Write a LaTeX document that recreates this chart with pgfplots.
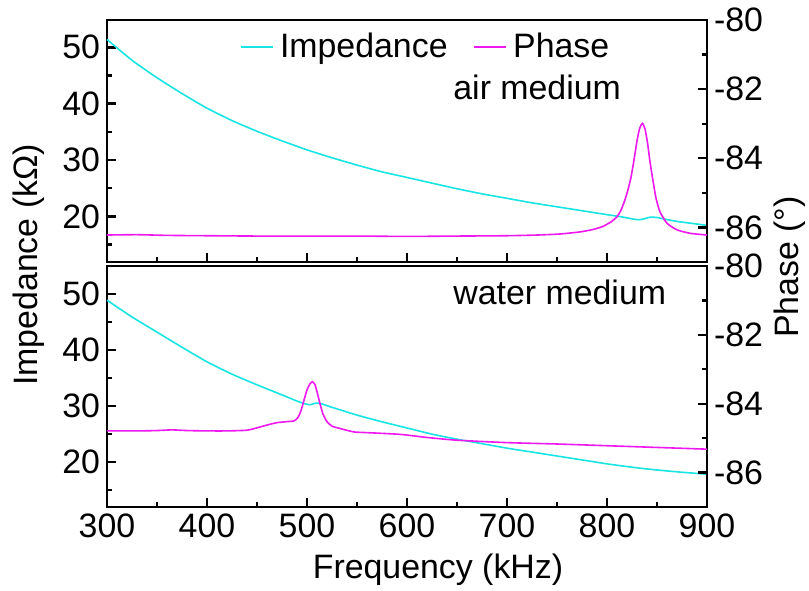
\documentclass[border=0pt]{standalone}
\usepackage{pgfplots}
\pgfplotsset{compat=1.18}
\usepackage{fontspec}
\setmainfont{Liberation Sans}
\definecolor{imp}{RGB}{25,228,228}
\definecolor{pha}{RGB}{238,25,238}
\newcommand{\bigf}{\fontsize{17}{20}\selectfont}
\pgfplotsset{
  base/.style={
    scale only axis, width=300bp,
    xmin=300, xmax=900,
    xtick={300,400,500,600,700,800,900},
    minor xtick={350,450,550,650,750,850},
    tick align=inside,
    major tick length=4.3bp, minor tick length=2.4bp,
    tick style={black, line width=1.2bp},
    axis line style={line width=1.3bp},
    tick label style={font=\bigf},
    clip=false,
  },
  curve/.style={line width=0.8bp, smooth, tension=0.35},
}
\begin{document}
\begin{tikzpicture}
\path[use as bounding box] (0,0) rectangle (404.5bp,295.5bp);
% ---------- top panel: air ----------
\begin{axis}[base, at={(53.5bp,164.5bp)}, anchor=south west, height=121bp,
  ymin=11.9, ymax=54.85,
  ytick={20,30,40,50}, yticklabels={20,30,40,50},
  minor ytick={15,25,35,45},
  xticklabels={}, xtick pos=lower, ytick pos=left,
  legend columns=2,
  legend image code/.code={\draw[#1] (0bp,0bp) -- (16bp,0bp);},
  legend style={draw=none, fill=none, at={(0.2217,0.888)}, anchor=west,
    inner sep=0pt, font=\bigf, cells={anchor=west},
    nodes={inner xsep=3bp},
    /tikz/every even column/.append style={column sep=10bp}},
]
\addplot[imp, curve] coordinates {
(300,51.4) (325,47.7) (350,44.6) (375,41.8) (400,39.2) (425,37.0) (450,35.1)
(475,33.4) (500,31.8) (525,30.4) (550,29.1) (575,27.9) (600,26.9) (625,25.9)
(650,24.9) (675,24.0) (700,23.2) (725,22.4) (750,21.7) (775,21.0) (800,20.3)
(815,19.9) (825,19.55) (832,19.4) (837,19.55) (843,19.85) (850,19.8) (858,19.5)
(870,19.1) (885,18.75) (900,18.4)};
\addlegendentry{Impedance}
\addlegendimage{pha, line width=0.8bp}
\addlegendentry{Phase}
\end{axis}
\begin{axis}[base, at={(53.5bp,164.5bp)}, anchor=south west, height=121bp,
  ymin=-87, ymax=-80, axis y line*=right, axis x line=none,
  ytick={-86,-84,-82,-80}, yticklabels={-86,-84,-82,-80},
  minor ytick={-85,-83,-81},
]
\addplot[pha, curve] coordinates {
(300,-86.22) (330,-86.21) (360,-86.23) (400,-86.24) (450,-86.25) (500,-86.25)
(550,-86.25) (600,-86.26) (650,-86.25) (700,-86.24) (730,-86.22) (753,-86.19)
(773,-86.13) (786,-86.06) (796,-85.97) (804,-85.84) (810,-85.69) (814,-85.5)
(818,-85.2) (821,-84.91) (824,-84.55) (827,-84.05) (830,-83.5) (832.5,-83.15)
(835.3,-82.99) (838,-83.15) (840.5,-83.55) (843,-84.1) (846,-84.65)
(849,-85.15) (853,-85.55) (860,-85.88) (870,-86.07) (883,-86.17) (900,-86.22)};
\end{axis}
% ---------- bottom panel: water ----------
\begin{axis}[base, at={(53.5bp,42bp)}, anchor=south west, height=120.5bp,
  ymin=12, ymax=55,
  ytick={20,30,40,50}, yticklabels={20,30,40,50},
  minor ytick={15,25,35,45},
  xticklabels={300,400,500,600,700,800,900}, xtick pos=lower, ytick pos=left,
]
\addplot[imp, curve] coordinates {
(300,48.9) (325,45.9) (350,43.2) (375,40.5) (400,37.9) (425,35.7) (450,33.8)
(475,32.0) (490,30.9) (498,30.4) (503,30.25) (508,30.5) (513,30.5) (523,29.9)
(550,28.4) (575,27.2) (600,26.1) (625,25.0) (650,24.1) (675,23.3) (700,22.5)
(725,21.8) (750,21.1) (775,20.4) (800,19.7) (825,19.1) (850,18.6) (875,18.2)
(900,17.85)};
\end{axis}
\begin{axis}[base, at={(53.5bp,42bp)}, anchor=south west, height=120.5bp,
  ymin=-87, ymax=-80, axis y line*=right, axis x line=none,
  ytick={-86,-84,-82,-80}, yticklabels={-86,-84,-82,-80},
  minor ytick={-85,-83,-81},
]
\addplot[pha, curve] coordinates {
(300,-84.79) (330,-84.79) (350,-84.78) (365,-84.76) (380,-84.78) (400,-84.79)
(420,-84.79) (440,-84.77) (450,-84.7) (460,-84.62) (470,-84.55) (480,-84.52)
(487,-84.5) (491,-84.4) (494,-84.2) (497,-83.9) (500,-83.6) (503,-83.42)
(505.5,-83.36) (508,-83.45) (510,-83.65) (513,-84.0) (516,-84.3) (520,-84.52)
(525,-84.65) (533,-84.72) (547,-84.82) (560,-84.84) (593,-84.89) (620,-84.98)
(650,-85.06) (700,-85.13) (750,-85.17) (800,-85.22) (850,-85.27) (900,-85.32)};
\end{axis}
% ---------- labels ----------
\node[font=\bigf, anchor=base] at (219bp,6.5bp) {Frequency (kHz)};
\node[font=\bigf, rotate=90] at (14.5bp,163bp) {Impedance (kΩ)};
\node[font=\bigf, rotate=90] at (395bp,162bp) {Phase (°)};
\node[font=\bigf, anchor=base west, inner sep=0pt] at (226.5bp,245.5bp) {air medium};
\node[font=\bigf, anchor=base west, inner sep=0pt] at (226.5bp,143bp) {water medium};
\end{tikzpicture}
\end{document}
